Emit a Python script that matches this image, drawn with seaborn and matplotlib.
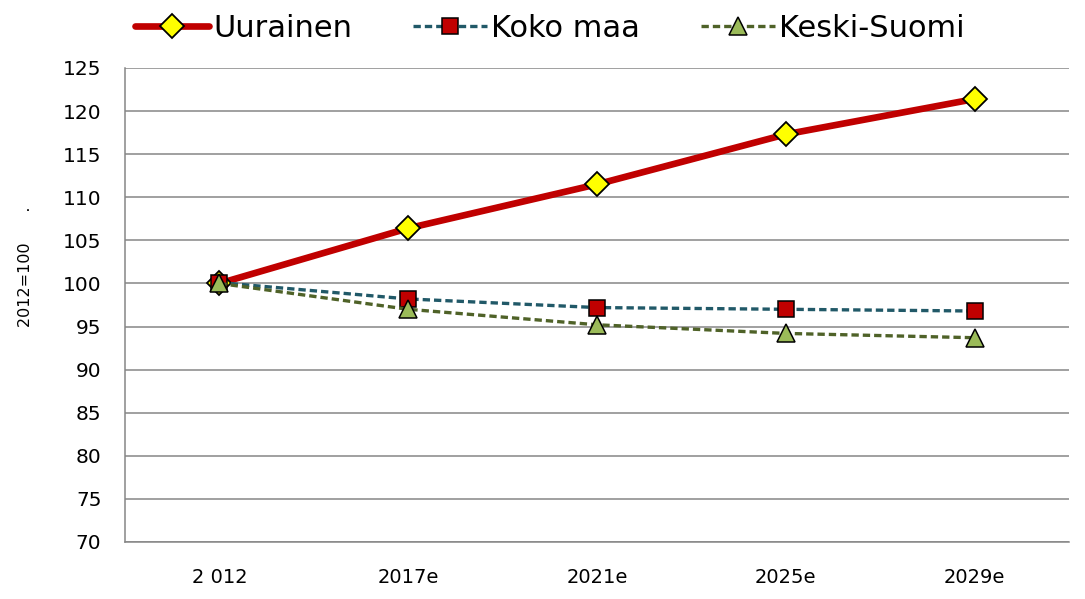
import matplotlib
matplotlib.use("Agg")
import matplotlib.pyplot as plt
import seaborn as sns
from matplotlib.ticker import FixedLocator

# chart data (index, 2012 = 100)
years = ['2 012', '2017e', '2021e', '2025e', '2029e']
uurainen = [100.0, 106.4, 111.5, 117.3, 121.4]
koko_maa = [100.1, 98.2, 97.2, 97.0, 96.8]
keski_suomi = [100.0, 97.0, 95.2, 94.2, 93.7]

sns.set_style("white")
plt.rcParams['font.family'] = ['DejaVu Sans']
plt.rcParams['text.color'] = 'black'
plt.rcParams['xtick.labelcolor'] = 'black'
plt.rcParams['ytick.labelcolor'] = 'black'
plt.rcParams['axes.labelcolor'] = 'black'

fig = plt.figure(figsize=(10.85, 5.99), dpi=100)
ax = fig.add_axes([0.1152, 0.0952, 0.8701, 0.7913])

grid_col = '#868686'

sns.lineplot(x=years, y=uurainen, ax=ax, color='#C00000', lw=4.8,
             marker='D', markersize=12, markerfacecolor='#FFFF00',
             markeredgecolor='black', markeredgewidth=1.3, label='Uurainen')
sns.lineplot(x=years, y=koko_maa, ax=ax, color='#215968', lw=2.4,
             dashes=(2.2, 1.2), marker='s', markersize=11,
             markerfacecolor='#C00000', markeredgecolor='black',
             markeredgewidth=1.1, label='Koko maa')
sns.lineplot(x=years, y=keski_suomi, ax=ax, color='#4F6228', lw=2.4,
             dashes=(2.2, 1.2), marker='^', markersize=13,
             markerfacecolor='#9BBB59', markeredgecolor='black',
             markeredgewidth=1.1, label='Keski-Suomi')

ax.set_ylim(70, 125)
ax.set_yticks(range(70, 126, 5))
ax.set_xlim(-0.5, 4.5)
ax.xaxis.set_minor_locator(FixedLocator([i - 0.5 for i in range(6)]))
ax.tick_params(axis='x', which='major', length=0, labelsize=14, pad=19)
ax.tick_params(axis='x', which='minor', length=5, width=1.1, color=grid_col)
ax.tick_params(axis='y', which='major', length=5, width=1.1, color=grid_col,
               labelsize=14.5, pad=12)

ax.grid(axis='y', color=grid_col, lw=1.1)
ax.set_axisbelow(True)
for side in ['top', 'right']:
    ax.spines[side].set_visible(False)
for side in ['left', 'bottom']:
    ax.spines[side].set_color(grid_col)
    ax.spines[side].set_linewidth(1.1)

ax.set_xlabel('')
ax.set_ylabel('2012=100      .', fontsize=11.5)
ax.yaxis.set_label_coords(-0.0975, 0.58)

handles, labels = ax.get_legend_handles_labels()
ax.get_legend().remove()
fig.legend(handles, labels, loc='center', bbox_to_anchor=(0.507, 0.953),
           ncol=3, frameon=False, fontsize=22,
           handlelength=2.4, handletextpad=0.15, columnspacing=2.0)

fig.savefig('out.png', dpi=100)
